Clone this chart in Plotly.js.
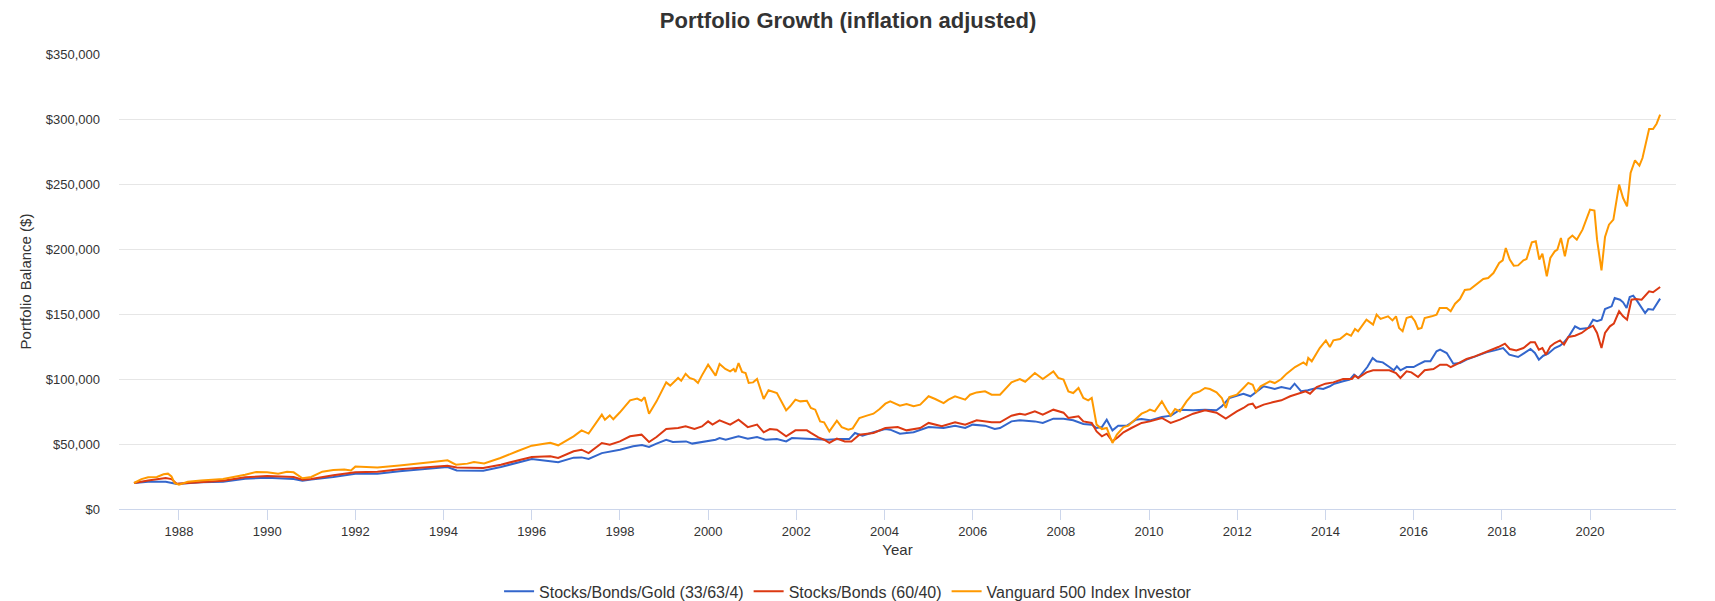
<!DOCTYPE html>
<html>
<head>
<meta charset="utf-8">
<script src="https://cdn.plot.ly/plotly-3.0.1.min.js"></script>
<style>
html,body{margin:0;padding:0;background:#fff;}
#chart{width:1715px;height:601px;}
</style>
</head>
<body>
<div id="chart"></div>
<script>
// Values in thousands of dollars (inflation adjusted), x in decimal years
const seriesNames = ["Stocks/Bonds/Gold (33/63/4)", "Stocks/Bonds (60/40)", "Vanguard 500 Index Investor"];
const seriesColors = ["#3366cc", "#dc3912", "#ff9900"];

const goldYears = [1986.98,1987.3,1987.7,1987.95,1988.5,1989.0,1989.5,1990.0,1990.6,1990.8,1991.0,1991.5,1992.0,1992.5,1993.0,1993.4,1994.09,1994.3,1994.9,1995.3,1995.67,1996.0,1996.42,1996.6,1996.95,1997.13,1997.29,1997.59,1998.0,1998.3,1998.5,1998.66,1998.83,1999.05,1999.2,1999.5,1999.64,2000.0,2000.17,2000.26,2000.4,2000.69,2000.9,2001.11,2001.3,2001.56,2001.77,2001.9,2002.3,2002.7,2003.0,2003.2,2003.33,2003.5,2003.75,2004.02,2004.13,2004.35,2004.66,2004.81,2005.0,2005.34,2005.6,2005.83,2006.0,2006.28,2006.5,2006.62,2006.88,2007.07,2007.41,2007.59,2007.83,2008.06,2008.28,2008.51,2008.7,2008.81,2008.93,2009.04,2009.17,2009.3,2009.5,2009.7,2009.83,2010.02,2010.29,2010.5,2010.7,2011.0,2011.27,2011.53,2011.65,2011.82,2011.99,2012.14,2012.3,2012.5,2012.6,2012.85,2013.0,2013.2,2013.3,2013.45,2013.6,2013.8,2013.95,2014.1,2014.2,2014.4,2014.55,2014.65,2014.75,2014.95,2015.07,2015.16,2015.3,2015.45,2015.55,2015.62,2015.7,2015.84,2016.0,2016.1,2016.25,2016.38,2016.52,2016.6,2016.75,2016.9,2017.05,2017.2,2017.39,2017.65,2017.84,2018.03,2018.17,2018.3,2018.37,2018.49,2018.65,2018.75,2018.84,2018.94,2019.05,2019.2,2019.32,2019.41,2019.51,2019.66,2019.77,2019.96,2020.07,2020.16,2020.26,2020.34,2020.49,2020.56,2020.68,2020.75,2020.83,2020.9,2020.98,2021.06,2021.17,2021.25,2021.32,2021.43,2021.59];
const goldValues = [20,21,21,19.2,20.5,21,23.3,24.1,23,21.8,22.6,24.6,27.2,27.2,29,30.2,32.3,29.7,29.5,32.3,35.4,38.5,36.7,35.9,39.5,39.7,38.5,43,45.6,48.2,49.2,47.7,50.3,53.3,51.5,52,50.3,52.6,53.3,54.6,53.3,55.9,54.1,55.4,53.3,53.8,52,54.6,54.1,53.3,53.8,53.8,58.5,56.4,59,61.5,61,57.9,59,61,63,62.3,64.1,62.3,64.9,64.1,61.5,62.3,67.4,68.2,67.4,66.2,69.5,69.5,68.2,65.4,64.9,62.3,63,68.7,60.5,64.1,64.1,68.7,69.2,68.2,70.8,71.8,76.4,75.9,76.4,75.9,79,85.4,87.2,88.7,86.7,91.8,94.4,92.3,93.8,92.3,96.4,90.5,91.3,93.1,92.3,94.4,96.4,98.2,99.5,103.3,100.8,109.2,116.2,113.6,112.8,109.2,106.7,109.7,106.7,109.2,109.2,111,113.6,113.6,121.3,122.6,120,111.8,112.3,114.9,117.4,120.5,122,123.8,118.7,117.9,116.9,119.5,123.1,120,114.9,117.9,119.5,123.8,125.6,128.2,132.3,140.5,138.5,139.2,145.6,144.4,145.6,153.8,155.9,162.3,161,159,154.6,163.1,164.1,160.5,154.6,150.8,153.8,153.3,161.8];

const bondYears = [1986.98,1987.3,1987.7,1987.83,1987.95,1988.5,1989.0,1989.5,1990.0,1990.6,1990.8,1991.0,1991.5,1992.0,1992.5,1993.0,1993.4,1994.09,1994.3,1994.9,1995.3,1995.67,1996.0,1996.42,1996.6,1996.95,1997.13,1997.29,1997.59,1997.77,1998.0,1998.23,1998.49,1998.66,1998.83,1999.05,1999.32,1999.49,1999.69,1999.86,2000.0,2000.1,2000.26,2000.5,2000.69,2000.9,2001.11,2001.26,2001.4,2001.56,2001.77,2001.98,2002.24,2002.33,2002.5,2002.63,2002.75,2002.92,2003.1,2003.25,2003.43,2003.75,2004.02,2004.3,2004.5,2004.81,2005.0,2005.3,2005.6,2005.83,2006.09,2006.43,2006.62,2006.88,2007.07,2007.19,2007.41,2007.59,2007.83,2008.06,2008.17,2008.3,2008.4,2008.51,2008.62,2008.7,2008.81,2008.93,2009.04,2009.17,2009.3,2009.42,2009.6,2009.83,2010.02,2010.29,2010.49,2010.7,2011.0,2011.27,2011.53,2011.74,2011.99,2012.14,2012.25,2012.35,2012.42,2012.6,2012.8,2013.0,2013.2,2013.4,2013.55,2013.65,2013.8,2014.0,2014.18,2014.4,2014.6,2014.67,2014.74,2014.93,2015.08,2015.3,2015.45,2015.6,2015.7,2015.84,2015.95,2016.1,2016.25,2016.45,2016.6,2016.75,2016.84,2017.0,2017.2,2017.39,2017.58,2017.77,2017.92,2018.07,2018.18,2018.33,2018.49,2018.65,2018.75,2018.84,2018.92,2019.0,2019.1,2019.2,2019.32,2019.41,2019.51,2019.66,2019.81,2019.96,2020.07,2020.16,2020.26,2020.34,2020.45,2020.54,2020.66,2020.75,2020.84,2020.94,2021.04,2021.17,2021.34,2021.43,2021.59];
const bondValues = [20,22,23.8,23,19.5,21,21.8,24.4,25.4,24.6,22.6,23,25.9,28.2,28.7,30.5,31.5,33.3,32,31.5,34.1,37.4,40,40.5,39.2,44.4,45.6,43,50.8,49.5,52,55.9,57.2,51.5,55.4,61.5,62.3,63.6,61.5,63.5,67.4,64.9,68.2,64.9,68.7,63,64.9,59,61.5,61,55.9,60.5,60.5,58.5,55.1,53.3,50.8,54.1,52,52,57.2,58.5,62.3,63,60.5,62.3,66.2,63.6,66.7,64.9,68.2,66.7,66.7,71.8,73.3,72.6,75.1,72.6,76.4,74.1,70,70.8,71.3,67.4,66.7,66.2,59.7,55.9,57.9,52,55.4,59,62.3,66.2,67.4,70,66.2,68.7,73.3,75.9,74.1,69.5,75.1,77.7,80.3,81,77.7,80.3,82.1,83.6,86.7,88.7,90.5,88.7,93.8,96.4,97.4,100,100,102.6,100.8,105.1,106.7,106.7,106.7,104.6,100.8,105.9,105.1,101.5,106.7,107.7,111,111,109.2,111.8,115.4,117.4,120,122,124.6,127.2,123.1,122,123.8,128.2,128.2,122.6,123.8,118.7,125.1,127.7,129.7,126.4,132.3,133.3,135.4,139.2,141,135.4,123.8,135.4,140.5,142.6,152.1,148.2,145.6,161,161.5,161,167.4,166.7,170.8];

const sp500Years = [1986.98,1987.15,1987.3,1987.5,1987.65,1987.75,1987.83,1987.9,1988.0,1988.2,1988.5,1989.0,1989.5,1989.75,1990.0,1990.25,1990.45,1990.6,1990.8,1991.0,1991.25,1991.5,1991.75,1991.9,1992.0,1992.5,1993.0,1993.34,1993.7,1994.09,1994.28,1994.54,1994.69,1994.92,1995.29,1995.67,1996.0,1996.42,1996.6,1996.95,1997.13,1997.29,1997.59,1997.66,1997.77,1997.85,1998.0,1998.23,1998.39,1998.49,1998.56,1998.66,1998.83,1999.05,1999.14,1999.32,1999.39,1999.49,1999.58,1999.69,1999.77,1999.86,2000.0,2000.17,2000.26,2000.39,2000.5,2000.58,2000.62,2000.69,2000.77,2000.85,2000.92,2001.02,2001.11,2001.26,2001.37,2001.56,2001.77,2001.86,2001.98,2002.09,2002.24,2002.33,2002.43,2002.54,2002.63,2002.75,2002.92,2003.03,2003.18,2003.28,2003.43,2003.6,2003.75,2003.89,2004.02,2004.13,2004.35,2004.5,2004.66,2004.81,2005.0,2005.15,2005.34,2005.45,2005.6,2005.83,2005.94,2006.09,2006.28,2006.43,2006.62,2006.88,2007.07,2007.19,2007.41,2007.59,2007.72,2007.83,2007.94,2008.06,2008.17,2008.28,2008.4,2008.51,2008.62,2008.7,2008.81,2008.93,2009.04,2009.17,2009.27,2009.42,2009.53,2009.68,2009.83,2009.95,2010.02,2010.13,2010.29,2010.4,2010.49,2010.59,2010.7,2010.85,2011.0,2011.15,2011.27,2011.38,2011.53,2011.65,2011.74,2011.82,2011.99,2012.14,2012.25,2012.35,2012.42,2012.53,2012.74,2012.85,2013.0,2013.12,2013.31,2013.5,2013.57,2013.61,2013.69,2013.87,2014.01,2014.1,2014.18,2014.33,2014.48,2014.58,2014.67,2014.74,2014.93,2015.08,2015.16,2015.25,2015.42,2015.52,2015.6,2015.67,2015.75,2015.84,2015.95,2016.03,2016.1,2016.18,2016.25,2016.41,2016.52,2016.59,2016.75,2016.84,2016.94,2017.05,2017.16,2017.28,2017.43,2017.58,2017.69,2017.81,2017.94,2018.02,2018.09,2018.18,2018.27,2018.37,2018.49,2018.56,2018.68,2018.77,2018.85,2018.92,2019.02,2019.1,2019.2,2019.26,2019.34,2019.43,2019.51,2019.6,2019.7,2019.83,2020.0,2020.1,2020.16,2020.26,2020.34,2020.43,2020.53,2020.66,2020.75,2020.84,2020.92,2021.02,2021.12,2021.19,2021.34,2021.43,2021.51,2021.59];
const sp500Values = [20,23,24.4,24.6,26.7,27.2,25,20,18.7,21,22,23,26.4,28.5,28.2,27.2,28.7,28.2,23.6,24.6,28.7,30,30.3,29.7,32.6,32,33.5,34.9,35.9,37.4,34.1,34.9,36.2,35.1,39.2,44.4,48.7,51,49,55.9,60.5,58,72.6,68.7,72,69,74.4,83.6,85,83.3,86,73.3,82.8,97.4,94.9,100.8,98.7,104,100.8,99.5,97,102.8,111,102.6,111.5,107.7,105.9,107.7,105.4,112.3,105.4,104.6,97,97.4,100,84.6,91.3,89.2,75.9,79,84.1,82.8,83.3,77.7,76.4,67.4,66.7,59.7,67.9,63,61,62,70,71.8,73.3,76.9,81,82.8,79.5,80.8,79,80.3,86.7,84.6,81.5,84.1,86.7,84.1,87.9,89.7,90.5,87.9,87.9,97.4,100,97.9,104.6,100,103.3,105.9,100.8,99.5,90.5,89.2,93.1,85.4,83.6,85.4,64.9,61.5,62.3,50.8,57.2,63,64.1,68.7,73.3,75.1,76.4,75.1,82.8,76.4,71.8,76.9,75.1,82.8,88.7,90.5,93.1,92.3,89.7,85.4,77.7,86.2,87.9,93.1,97,95.6,89.7,94.4,98.2,96.9,100,104.1,109.2,112.8,111,116.2,113.6,123.8,129.7,124.6,129.7,130.8,134.9,133.3,138.5,136.7,145.6,141.8,149.5,146.2,148.2,145.1,148.2,139.2,136.7,146.9,148.2,144.4,138.5,139.2,146.9,148.2,149.5,154.6,154.6,152.1,157.9,161.5,168.5,169,172.6,176.9,177.7,181.5,189.2,191.3,200.8,191.8,187.2,187.4,191.3,192.3,205.1,205.9,191.8,196.4,179,193.1,198.2,199.5,208.5,194.4,207.7,210.3,207.2,214.9,230.3,229.5,207.2,183.6,209.2,218.7,222.6,249.5,239.2,232.8,258.5,268.2,264.1,270,292.3,292.3,296.4,303.3];

const tickYears = [1988,1990,1992,1994,1996,1998,2000,2002,2004,2006,2008,2010,2012,2014,2016,2018,2020];
const yTicks = [0,50000,100000,150000,200000,250000,300000,350000];

const xs = [goldYears, bondYears, sp500Years];
const ys = [goldValues, bondValues, sp500Values];

const traces = seriesNames.map((name, i) => ({
  type: 'scatter',
  mode: 'lines',
  name: name,
  x: xs[i],
  y: ys[i].map(v => v * 1000),
  line: {color: seriesColors[i], width: 2},
  hoverinfo: 'x+y+name'
}));

const font = 'Arial, "Liberation Sans", Helvetica, sans-serif';
const layout = {
  width: 1715,
  height: 601,
  margin: {l: 119, r: 39, t: 54, b: 92},
  paper_bgcolor: '#ffffff',
  plot_bgcolor: '#ffffff',
  font: {family: font, color: '#333333', size: 13},
  title: {
    text: 'Portfolio Growth (inflation adjusted)',
    font: {family: font, size: 22, color: '#333333', weight: 'bold'},
    x: 0.4945, xanchor: 'center', xref: 'container',
    y: 0.966, yanchor: 'middle', yref: 'container'
  },
  xaxis: {
    type: 'linear',
    range: [1986.64, 2021.95],
    tickmode: 'array',
    tickvals: tickYears,
    ticktext: tickYears.map(String),
    showgrid: false,
    zeroline: false,
    showline: true,
    linecolor: '#ccd6eb',
    linewidth: 1,
    ticks: 'outside',
    ticklen: 10,
    tickcolor: '#ccd6eb',
    tickfont: {size: 13, color: '#333333'},
    automargin: false,
    title: {text: 'Year', font: {size: 15, color: '#333333'}, standoff: 6}
  },
  yaxis: {
    range: [0, 350000],
    tickmode: 'array',
    tickvals: yTicks,
    ticktext: yTicks.map(v => '$' + v.toLocaleString('en-US')),
    showgrid: true,
    gridcolor: '#e6e6e6',
    gridwidth: 1,
    zeroline: false,
    showline: false,
    ticks: '',
    ticklabelstandoff: 18,
    tickfont: {size: 13, color: '#333333'},
    automargin: false,
    title: {text: 'Portfolio Balance ($)', font: {size: 15, color: '#333333'}, standoff: 10}
  },
  showlegend: true,
  legend: {
    orientation: 'h',
    xref: 'container', yref: 'container',
    x: 0.4945, xanchor: 'center',
    y: 0.016, yanchor: 'middle',
    font: {size: 16, color: '#333333'},
    itemwidth: 30,
    traceorder: 'normal'
  }
};

Plotly.newPlot('chart', traces, layout, {displayModeBar: false, responsive: false});
</script>
</body>
</html>
